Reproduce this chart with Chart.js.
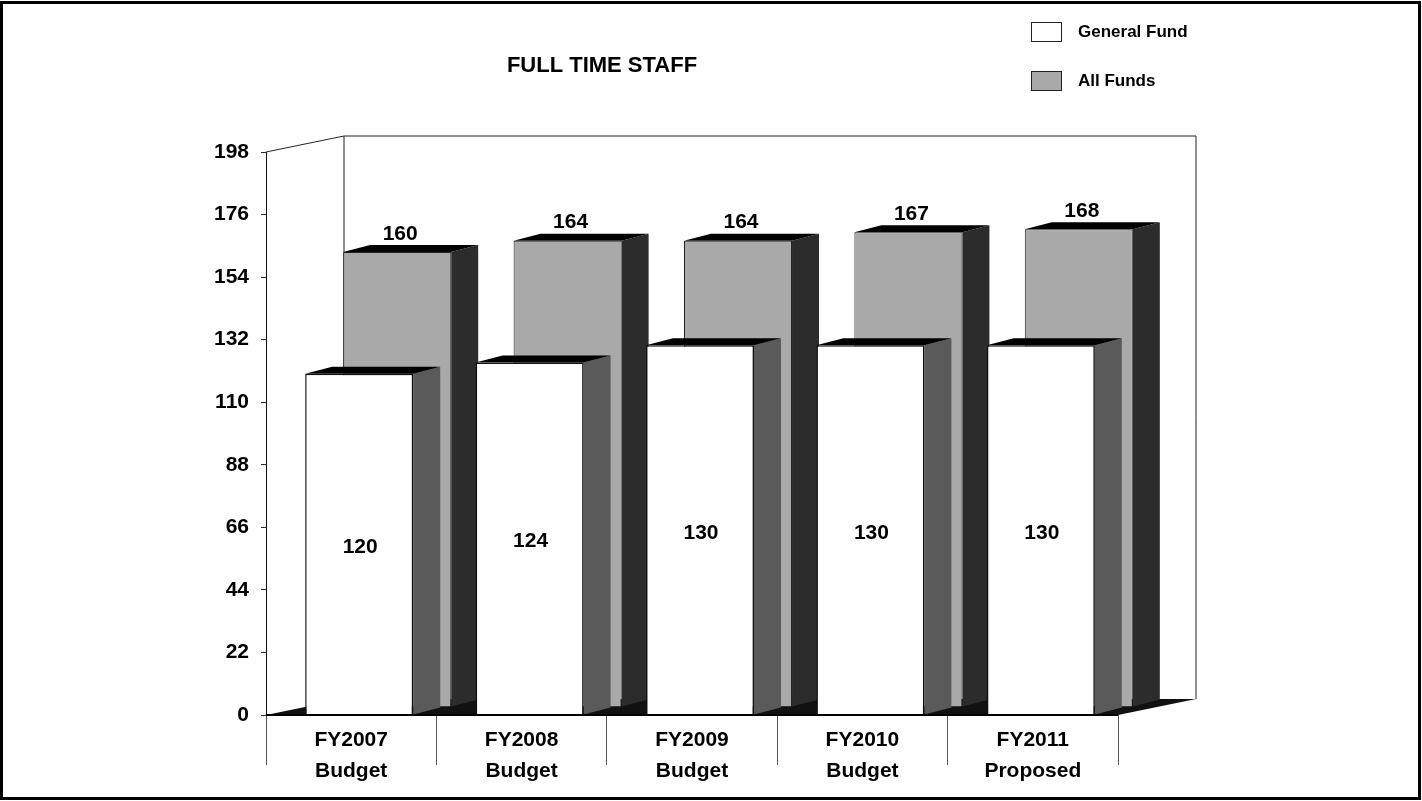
<!DOCTYPE html>
<html>
<head>
<meta charset="utf-8">
<script src="https://cdn.jsdelivr.net/npm/chart.js@4/dist/chart.umd.min.js"></script>
<style>
  body { margin: 0; background: #fff; }
  canvas { display: block; }
</style>
</head>
<body>
<canvas id="myChart" width="1422" height="801"></canvas>
<script>
// data
const categories = [['FY2007', 'Budget'], ['FY2008', 'Budget'], ['FY2009', 'Budget'], ['FY2010', 'Budget'], ['FY2011', 'Proposed']];
const generalFund = [120, 124, 130, 130, 130];
const allFunds = [160, 164, 164, 167, 168];
const yTicks = [0, 22, 44, 66, 88, 110, 132, 154, 176, 198];
const chartTitle = 'FULL TIME STAFF';

const FONT = '"Liberation Sans", Arial, sans-serif';
const WALL = { dx: 78, dy: -16 };   // depth of the whole box
const BAR = { dx: 27, dy: -7 };     // depth of one bar
const shifts = [{ x: 8, y: 0 }, { x: 46, y: -8 }]; // front row, back row
const sideColors = ['#5a5a5a', '#2c2c2c'];

function poly(ctx, pts, fill) {
    ctx.beginPath();
    ctx.moveTo(pts[0][0], pts[0][1]);
    for (let i = 1; i < pts.length; i++) ctx.lineTo(pts[i][0], pts[i][1]);
    ctx.closePath();
    ctx.fillStyle = fill;
    ctx.fill();
}

// walls and floor of the 3d box
const boxPlugin = {
    id: 'box',
    beforeDatasetsDraw(chart) {
        const { ctx, chartArea: a } = chart;
        ctx.save();
        ctx.strokeStyle = '#222';
        ctx.lineWidth = 1;
        ctx.beginPath();
        ctx.moveTo(a.left, a.top);
        ctx.lineTo(a.left + WALL.dx, a.top + WALL.dy);
        ctx.lineTo(a.right + WALL.dx, a.top + WALL.dy);
        ctx.lineTo(a.right + WALL.dx, a.bottom + WALL.dy);
        ctx.moveTo(a.left + WALL.dx, a.top + WALL.dy);
        ctx.lineTo(a.left + WALL.dx, a.bottom + WALL.dy);
        ctx.stroke();
        poly(ctx, [[a.left, a.bottom], [a.right, a.bottom], [a.right + WALL.dx, a.bottom + WALL.dy], [a.left + WALL.dx, a.bottom + WALL.dy]], '#111');
        ctx.restore();
    },
    beforeDatasetDraw(chart, args) {
        const { ctx } = chart;
        const s = shifts[args.index];
        ctx.save();
        ctx.translate(s.x, s.y);
        args.meta.data.forEach(bar => {
            const l = bar.x - bar.width / 2, r = bar.x + bar.width / 2;
            poly(ctx, [[r, bar.y], [r + BAR.dx, bar.y + BAR.dy], [r + BAR.dx, bar.base + BAR.dy], [r, bar.base]], sideColors[args.index]);
            poly(ctx, [[l, bar.y], [l + BAR.dx, bar.y + BAR.dy], [r + BAR.dx, bar.y + BAR.dy], [r, bar.y]], '#000');
        });
    },
    afterDatasetDraw(chart, args) {
        const { ctx } = chart;
        const ds = chart.data.datasets[args.index];
        ctx.font = 'bold 21px ' + FONT;
        ctx.fillStyle = '#000';
        ctx.textAlign = 'center';
        ctx.textBaseline = 'middle';
        args.meta.data.forEach((bar, i) => {
            if (args.index === 0) ctx.fillText(ds.data[i], bar.x + 1, (bar.y + bar.base) / 2 + 3);
            else ctx.fillText(ds.data[i], bar.x + 3, bar.y - 18);
        });
        ctx.restore();
    },
    afterDraw(chart) {
        const { ctx, chartArea: a } = chart;
        ctx.save();
        // front edge of the floor
        ctx.strokeStyle = '#000';
        ctx.lineWidth = 2;
        ctx.beginPath();
        ctx.moveTo(a.left, a.bottom);
        ctx.lineTo(a.right, a.bottom);
        ctx.stroke();
        // title
        ctx.fillStyle = '#000';
        ctx.font = 'bold 22px ' + FONT;
        ctx.textAlign = 'center';
        ctx.textBaseline = 'middle';
        ctx.fillText(chartTitle, 602, 66);
        // legend
        ctx.font = 'bold 17px ' + FONT;
        ctx.textAlign = 'left';
        chart.data.datasets.forEach((ds, i) => {
            const y = 32 + i * 49;
            ctx.fillStyle = ds.backgroundColor;
            ctx.fillRect(1031, y - 10, 31, 20);
            ctx.strokeStyle = '#222';
            ctx.lineWidth = 1;
            ctx.strokeRect(1031.5, y - 9.5, 30, 19);
            ctx.fillStyle = '#000';
            ctx.fillText(ds.label, 1078, y);
        });
        // page frame
        ctx.lineWidth = 3;
        ctx.strokeStyle = '#000';
        ctx.strokeRect(1.5, 2.5, 1418, 796);
        ctx.restore();
    }
};

new Chart(document.getElementById('myChart'), {
    type: 'bar',
    data: {
        labels: categories,
        datasets: [{
            label: 'General Fund',
            data: generalFund,
            backgroundColor: '#ffffff',
            borderColor: '#111',
            borderWidth: 1.5,
            grouped: false,
            clip: false
        }, {
            label: 'All Funds',
            data: allFunds,
            backgroundColor: '#a9a9a9',
            borderColor: '#222',
            borderWidth: 1,
            grouped: false,
            clip: false
        }]
    },
    options: {
        responsive: false,
        animation: false,
        layout: { padding: { top: 152, right: 304, left: 0, bottom: 0 } },
        categoryPercentage: 1,
        barPercentage: 0.634,
        plugins: { legend: { display: false }, tooltip: { enabled: false } },
        scales: {
            x: {
                afterFit: s => { s.height = 86; },
                border: { display: false },
                grid: { drawOnChartArea: false, offset: true, tickLength: 50, color: '#555' },
                ticks: { color: '#000', padding: -41, font: { family: FONT, size: 21, weight: 'bold', lineHeight: 1.5 } }
            },
            y: {
                min: 0,
                max: 198,
                afterFit: s => { s.width = 266; },
                afterBuildTicks: s => { s.ticks = yTicks.map(v => ({ value: v })); },
                border: { display: true, color: '#111', width: 1 },
                grid: { drawOnChartArea: false, tickLength: 5, color: '#333' },
                ticks: { color: '#000', padding: 12, font: { family: FONT, size: 21, weight: 'bold' } }
            }
        }
    },
    plugins: [boxPlugin]
});
</script>
</body>
</html>
